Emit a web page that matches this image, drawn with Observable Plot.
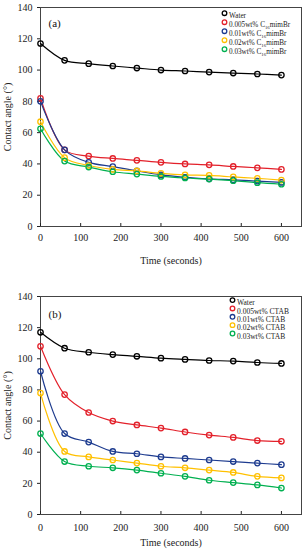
<!DOCTYPE html>
<html><head><meta charset="utf-8">
<script src="https://cdn.jsdelivr.net/npm/d3@7"></script>
<script src="https://cdn.jsdelivr.net/npm/@observablehq/plot@0.6"></script>
<style>body{margin:0;background:#fff;} #chart svg{display:block;}</style>
</head><body><div id="chart"></div>
<script>
const times = [0, 60, 120, 180, 240, 300, 360, 420, 480, 540, 600];
const xTicks = [0, 100, 200, 300, 400, 500, 600];
const yTicks = [0, 20, 40, 60, 80, 100, 120, 140];
const colors = ["#000000", "#e3202a", "#1d3b8f", "#ffc000", "#00b050"];

const namesA = ["Water", "0.005wt% C16mimBr", "0.01wt% C16mimBr", "0.02wt% C16mimBr", "0.03wt% C16mimBr"];
const waterA = [117, 106.2, 104.1, 102.6, 101.3, 100, 99.4, 98.7, 98.1, 97.5, 96.8];
const mimBr005 = [82, 49, 45, 43.5, 42.3, 41, 40, 39.4, 38.4, 37.5, 36.5];
const mimBr01 = [80, 49, 41, 38.3, 35.5, 33, 31.5, 30.5, 29.8, 29, 28.2];
const mimBr02 = [67, 44, 39, 36.5, 35.5, 34, 33, 32.7, 31.7, 30.8, 29.7];
const mimBr03 = [62.5, 41.8, 38, 35, 33.5, 32, 31, 30.3, 29.3, 28, 27];

const namesB = ["Water", "0.005wt% CTAB", "0.01wt% CTAB", "0.02wt% CTAB", "0.03wt% CTAB"];
const waterB = [117, 106.8, 104.2, 102.7, 101.6, 100.4, 99.6, 98.9, 98.5, 97.6, 97];
const ctab005 = [108, 77, 65.5, 60, 57.5, 55.5, 53, 51, 49.5, 47.5, 47];
const ctab01 = [92, 52, 46.5, 40.5, 39, 37, 36, 35, 34, 33, 32];
const ctab02 = [78, 40.5, 37, 35, 33, 31, 30, 28.5, 27, 24.5, 23.5];
const ctab03 = [52, 34, 31, 30, 28.5, 26.5, 24.5, 22, 20.5, 19, 17];

function table(names, series) {
  const rows = [];
  series.forEach((vals, i) => vals.forEach((v, j) => rows.push({series: names[i], t: times[j], v})));
  return rows;
}

function panel({label, names, series, marginTop, marginBottom, tickPad, labelOffsetX, legendDx, legendDy0, legendStep, legendFont, labelDy}) {
  const data = table(names, series);
  const legend = names.flatMap((n, i) => [
    Plot.dot([n], {x: null, y: null, frameAnchor: "top-left", dx: legendDx, dy: legendDy0 + i * legendStep, r: 2.3, stroke: colors[i], strokeWidth: 1.3, fill: "none"}),
    Plot.text([n], {x: null, y: null, text: d => d, frameAnchor: "top-left", dx: legendDx + 4.5, dy: legendDy0 + i * legendStep, textAnchor: "start", fontSize: legendFont, fill: "#222", className: "legend-label"})
  ]);
  const svg = Plot.plot({
    width: 304, height: 275,
    marginLeft: 40, marginRight: 3, marginTop, marginBottom,
    style: {fontFamily: "'Liberation Serif', serif", fontSize: "10px", color: "#222", background: "#fff"},
    x: {domain: [0, 650]},
    y: {domain: [0, 140]},
    color: {domain: names, range: colors},
    marks: [
      Plot.frame({stroke: "#444", strokeWidth: 1}),
      Plot.axisX({ticks: xTicks, tickSize: -3, tickPadding: tickPad, label: "Time (seconds)", labelAnchor: "center", labelOffset: labelOffsetX, labelArrow: "none"}),
      Plot.axisY({ticks: yTicks, tickSize: 3, tickPadding: 5, label: "Contact angle (°)", labelAnchor: "center", labelOffset: 37, labelArrow: "none"}),
      Plot.line(data, {x: "t", y: "v", z: "series", stroke: "series", curve: "catmull-rom", strokeWidth: 1.2}),
      Plot.dot(data, {x: "t", y: "v", stroke: "series", r: 2.7, strokeWidth: 1.3, fill: "none"}),
      Plot.text([label], {x: null, y: null, text: d => d, frameAnchor: "top-left", dx: 8, dy: labelDy, textAnchor: "start", fontSize: 11, fill: "#111"}),
      ...legend
    ]
  });
  // render "C16" with a subscript 16, as in the original legend
  svg.querySelectorAll(".legend-label text").forEach(t => {
    const s = t.textContent;
    const m = s.match(/^(.*C)(16)(mimBr)$/);
    if (m) {
      t.textContent = "";
      const ns = "http://www.w3.org/2000/svg";
      const a = document.createElementNS(ns, "tspan"); a.textContent = m[1];
      const b = document.createElementNS(ns, "tspan"); b.textContent = m[2];
      b.setAttribute("font-size", "4.8"); b.setAttribute("dy", "1.6");
      const c = document.createElementNS(ns, "tspan"); c.textContent = m[3];
      c.setAttribute("dy", "-1.6");
      t.append(a, b, c);
    }
  });
  return svg;
}

const chart = document.getElementById("chart");
chart.append(panel({label: "(a)", names: namesA, series: [waterA, mimBr005, mimBr01, mimBr02, mimBr03],
  marginTop: 7, marginBottom: 49, tickPad: 10, labelOffsetX: 37, legendDx: 184, legendDy0: 5.7, legendStep: 9, legendFont: 7.2, labelDy: 12}));
chart.append(panel({label: "(b)", names: namesB, series: [waterB, ctab005, ctab01, ctab02, ctab03],
  marginTop: 21, marginBottom: 36, tickPad: 12, labelOffsetX: 31, legendDx: 192, legendDy0: 3.6, legendStep: 8.35, legendFont: 7.5, labelDy: 13.3}));
</script>
</body></html>
